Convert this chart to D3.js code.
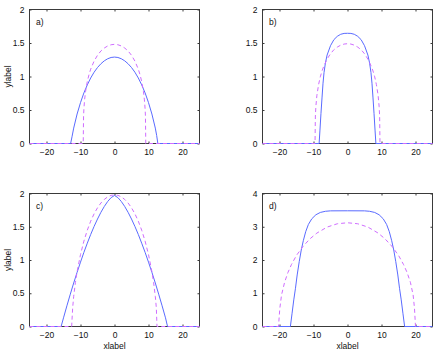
<!DOCTYPE html>
<html>
<head>
<meta charset="utf-8">
<script src="https://cdn.jsdelivr.net/npm/d3@7"></script>
<style>
  body { margin: 0; background: #fff; }
  svg { display: block; }
  svg text { font-family: "Liberation Sans", Arial, sans-serif; }
</style>
</head>
<body>
<svg id="fig" width="436" height="351"></svg>
<script>
// ---- data ----
const xTicks = [-20, -10, 0, 10, 20];
const xDomain = [-25, 25];
const yTicksSmall = [0, 0.5, 1, 1.5, 2];
const yTicksLarge = [0, 1, 2, 3, 4];
const panelLabels = ["a)", "b)", "c)", "d)"];

// panel a
const solidA = [[-25,0],[-12.9,0],[-12.5,0.1],[-12,0.23],[-11,0.44],[-10,0.61],[-9,0.755],[-8,0.875],[-7,0.978],[-6,1.064],[-5,1.134],[-4,1.19],[-3,1.234],[-2,1.265],[-1,1.284],[0,1.29],[1,1.284],[2,1.265],[3,1.234],[4,1.19],[5,1.134],[6,1.064],[7,0.978],[8,0.875],[9,0.755],[10,0.61],[11,0.44],[12,0.23],[12.4,0.12],[12.75,0],[25,0]];
const dashedA = [[-25,0],[-9.2,0],[-9.1,0.41],[-9,0.518],[-8.8,0.651],[-8.5,0.78],[-8,0.925],[-7.5,1.028],[-7,1.11],[-6,1.23],[-5,1.317],[-4,1.381],[-3,1.425],[-2,1.456],[-1,1.474],[0,1.48],[1,1.474],[2,1.456],[3,1.425],[4,1.381],[5,1.317],[6,1.23],[7,1.11],[7.5,1.028],[8,0.925],[8.5,0.78],[8.8,0.651],[9,0.518],[9.1,0.41],[9.2,0],[25,0]];

// panel b
const solidB = [[-25,0],[-8.35,0],[-8.1,0.2],[-7.8,0.45],[-7.5,0.68],[-7.2,0.9],[-6.9,1.06],[-6.5,1.2],[-6,1.32],[-5,1.46],[-4,1.55],[-3,1.6],[-2,1.63],[-1,1.643],[0,1.645],[1,1.643],[2,1.63],[3,1.6],[4,1.55],[5,1.46],[6,1.32],[6.5,1.2],[6.9,1.06],[7.2,0.9],[7.5,0.68],[7.8,0.45],[8.1,0.2],[8.35,0],[25,0]];
const dashedB = [[-25,0],[-9.55,0],[-9.45,0.41],[-9.3,0.556],[-9,0.72],[-8.5,0.88],[-8,0.995],[-7.5,1.082],[-7,1.15],[-6,1.26],[-5,1.34],[-4,1.4],[-3,1.439],[-2,1.468],[-1,1.484],[0,1.49],[1,1.484],[2,1.468],[3,1.439],[4,1.4],[5,1.34],[6,1.26],[7,1.15],[7.5,1.082],[8,0.995],[8.5,0.88],[9,0.72],[9.3,0.556],[9.45,0.41],[9.55,0],[25,0]];

// panel c
const solidC = [[-25,0],[-15.7,0],[-15,0.13],[-14,0.311],[-13,0.486],[-12,0.654],[-11,0.815],[-10,0.968],[-9,1.115],[-8,1.253],[-7,1.384],[-6,1.505],[-5,1.616],[-4,1.717],[-3,1.805],[-2,1.88],[-1,1.938],[0,1.97],[1,1.938],[2,1.88],[3,1.805],[4,1.717],[5,1.616],[6,1.505],[7,1.384],[8,1.253],[9,1.115],[10,0.968],[11,0.815],[12,0.654],[13,0.486],[14,0.311],[15,0.13],[15.6,0],[25,0]];
const dashedC = [[-25,0],[-12.6,0],[-12.3,0.284],[-12,0.454],[-11.5,0.66],[-11,0.824],[-10,1.082],[-9,1.284],[-8,1.448],[-7,1.584],[-6,1.695],[-5,1.785],[-4,1.857],[-3,1.911],[-2,1.95],[-1,1.972],[0,1.98],[1,1.972],[2,1.95],[3,1.911],[4,1.857],[5,1.785],[6,1.695],[7,1.584],[8,1.448],[9,1.284],[10,1.082],[11,0.824],[11.5,0.66],[12,0.454],[12.3,0.284],[12.5,0],[25,0]];

// panel d
const solidD = [[-25,0],[-16.8,0],[-16.3,0.4],[-15.8,0.8],[-15.3,1.15],[-14.8,1.55],[-14.2,1.95],[-13.6,2.3],[-13,2.58],[-12.3,2.85],[-11.5,3.07],[-10.5,3.24],[-9.3,3.36],[-8,3.43],[-6.5,3.465],[-5,3.478],[0,3.48],[5,3.478],[6.5,3.465],[8,3.43],[9.3,3.36],[10.5,3.24],[11.5,3.07],[12.3,2.85],[13,2.58],[13.6,2.3],[14.2,1.95],[14.8,1.55],[15.3,1.15],[15.8,0.8],[16.3,0.4],[16.8,0],[25,0]];
const dashedD = [[-25,0],[-20.3,0],[-19.9,0.55],[-19.4,0.95],[-18.5,1.33],[-17.5,1.63],[-16.5,1.86],[-15,2.14],[-13,2.42],[-11,2.64],[-9,2.81],[-6,2.99],[-3,3.09],[0,3.12],[3,3.09],[6,2.99],[9,2.81],[11,2.64],[13,2.42],[15,2.14],[16.5,1.86],[17.5,1.63],[18.5,1.33],[19.3,0.95],[19.7,0.55],[20.0,0],[25,0]];

// ---- layout ----
const panels = [
  {x0: 29.5,  x1: 199.5, y0: 9.5,   y1: 143.5, yTicks: yTicksSmall, solid: solidA, dashed: dashedA, ylabel: true,  xlabel: false},
  {x0: 262.5, x1: 432.5, y0: 9.5,   y1: 143.5, yTicks: yTicksSmall, solid: solidB, dashed: dashedB, ylabel: false, xlabel: false},
  {x0: 29.5,  x1: 199.5, y0: 193.5, y1: 326.5, yTicks: yTicksSmall, solid: solidC, dashed: dashedC, ylabel: true,  xlabel: true},
  {x0: 262.5, x1: 432.5, y0: 193.5, y1: 326.5, yTicks: yTicksLarge, solid: solidD, dashed: dashedD, ylabel: false, xlabel: true}
];

const frameColor = "#3a3a3a";
const textColor = "#111";
const fontSize = 8.5;
const fontFamily = "Liberation Sans, Arial, sans-serif";

const svg = d3.select("#fig");

panels.forEach((p, i) => {
  const yMax = p.yTicks[p.yTicks.length - 1];
  const x = d3.scaleLinear().domain(xDomain).range([p.x0, p.x1]);
  const y = d3.scaleLinear().domain([0, yMax]).range([p.y1, p.y0]);

  const g = svg.append("g");

  // axes with inward ticks on all four sides
  const styleAxis = sel => {
    sel.attr("font-family", fontFamily).attr("font-size", fontSize);
    sel.select(".domain").remove();
    sel.selectAll(".tick line").attr("stroke", frameColor);
    sel.selectAll(".tick text").attr("fill", textColor);
  };

  g.append("g").attr("transform", `translate(0,${p.y1})`)
    .call(d3.axisBottom(x).tickValues(xTicks).tickSize(-2).tickPadding(5.5))
    .call(styleAxis);
  g.append("g").attr("transform", `translate(0,${p.y0})`)
    .call(d3.axisTop(x).tickValues(xTicks).tickSize(-2).tickFormat(""))
    .call(styleAxis);
  g.append("g").attr("transform", `translate(${p.x0},0)`)
    .call(d3.axisLeft(y).tickValues(p.yTicks).tickSize(-2).tickPadding(5).tickFormat(d3.format("")))
    .call(styleAxis);
  g.append("g").attr("transform", `translate(${p.x1},0)`)
    .call(d3.axisRight(y).tickValues(p.yTicks).tickSize(-2).tickFormat(""))
    .call(styleAxis);

  // frame box
  g.append("rect")
    .attr("x", p.x0).attr("y", p.y0)
    .attr("width", p.x1 - p.x0).attr("height", p.y1 - p.y0)
    .attr("fill", "none").attr("stroke", frameColor).attr("stroke-width", 1);

  const line = d3.line().x(d => x(d[0])).y(d => y(d[1]));

  g.append("path").datum(p.solid)
    .attr("d", line)
    .attr("fill", "none")
    .attr("stroke", "#5a6bff")
    .attr("stroke-width", 1);

  g.append("path").datum(p.dashed)
    .attr("d", line)
    .attr("fill", "none")
    .attr("stroke", "#cf6dff")
    .attr("stroke-width", 1)
    .attr("stroke-dasharray", "4,3");

  // panel tag
  g.append("text")
    .attr("x", p.x0 + 6.5).attr("y", p.y0 + 15.5)
    .attr("font-size", fontSize).attr("fill", textColor)
    .text(panelLabels[i]);

  if (p.ylabel) {
    g.append("text")
      .attr("transform", `translate(10.5,${(p.y0 + p.y1) / 2}) rotate(-90)`)
      .attr("text-anchor", "middle")
      .attr("font-size", fontSize).attr("fill", textColor)
      .text("ylabel");
  }
  if (p.xlabel) {
    g.append("text")
      .attr("x", (p.x0 + p.x1) / 2).attr("y", 349)
      .attr("text-anchor", "middle")
      .attr("font-size", fontSize).attr("fill", textColor)
      .text("xlabel");
  }
});
</script>
</body>
</html>
